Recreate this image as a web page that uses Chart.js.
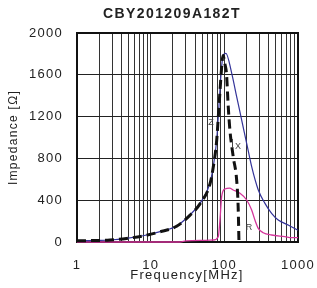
<!DOCTYPE html>
<html>
<head>
<meta charset="utf-8">
<script src="https://cdn.jsdelivr.net/npm/chart.js@4"></script>
<style>
  body { margin: 0; background: #fff; }
  #wrap { width: 317px; height: 288px; }
</style>
</head>
<body>
<div id="wrap"><canvas id="grafico" width="317" height="288"></canvas></div>
<script>
// frequencias em MHz e impedancias em ohm
const zFreq = [1, 2, 2.8, 4.7, 7.9, 13.4, 22.5, 34, 46.7, 63.8, 70.7, 78.7, 82.7, 87.2, 91.9, 96.7, 105, 126, 147, 172, 201, 235, 289, 356, 438, 539, 736, 1000];
const zVals = [12, 15, 19, 35, 60, 99, 153, 258, 370, 562, 721, 976, 1199, 1455, 1678, 1789, 1805, 1614, 1391, 1167, 944, 721, 498, 370, 275, 211, 163, 112];

const xFreq = [1, 2, 2.8, 4.7, 7.9, 13.4, 22.5, 34, 46.7, 63.8, 70.7, 78.7, 82.7, 87.2, 91.9, 96, 102, 107, 113, 119, 132, 147, 154, 158];
const xVals = [12, 15, 19, 34, 58, 97, 150, 255, 365, 555, 715, 970, 1190, 1440, 1670, 1785, 1700, 1610, 1295, 1072, 816, 593, 338, 0];

const rFreq = [1, 25, 30, 50, 70.7, 82.7, 87.2, 91.9, 102, 118, 132, 163, 201, 235, 260, 289, 337, 438, 664, 819, 1000];
const rVals = [0, 0, 10, 15, 19, 51, 211, 433, 507, 515, 498, 466, 402, 306, 211, 131, 89, 67, 51, 41, 41];

const decadas = [1, 10, 100, 1000];
const yTicks = [0, 400, 800, 1200, 1600, 2000];

const pontos = (fs, vs) => fs.map((f, i) => ({ x: f, y: vs[i] }));

const textos = {
  id: "textos",
  beforeDraw(chart) {
    chart.ctx.letterSpacing = "1.3px";
  },
  beforeDatasetsDraw(chart) {
    const { ctx, chartArea: a } = chart;
    ctx.save();
    ctx.strokeStyle = "#111";
    ctx.lineWidth = 2;
    ctx.strokeRect(a.left, a.top, a.right - a.left, a.bottom - a.top);
    ctx.restore();
  },
  afterDraw(chart) {
    const ctx = chart.ctx;
    ctx.save();
    ctx.fillStyle = "#222";
    ctx.textAlign = "center";
    ctx.textBaseline = "alphabetic";
    ctx.letterSpacing = "1.4px";
    ctx.font = 'bold 14px "Liberation Sans", Arial, sans-serif';
    ctx.fillText("CBY201209A182T", 172, 17.5);
    ctx.letterSpacing = "1.3px";
    ctx.font = '13px "Liberation Sans", Arial, sans-serif';
    ctx.fillText("Frequency[MHz]", 187, 279);
    ctx.letterSpacing = "0px";
    ctx.fillStyle = "#444";
    ctx.font = '9px "Liberation Sans", Arial, sans-serif';
    ctx.fillText("Z", 211, 124.5);
    ctx.fillText("X", 238, 148.5);
    ctx.fillText("R", 249, 229.5);
    ctx.strokeStyle = "#444";
    ctx.lineWidth = 1;
    ctx.beginPath();
    ctx.moveTo(232.5, 139);
    ctx.lineTo(232.5, 148);
    ctx.stroke();
    ctx.restore();
  }
};

new Chart(document.getElementById("grafico"), {
  type: "line",
  data: {
    datasets: [
      {
        label: "X",
        data: pontos(xFreq, xVals),
        borderColor: "#111",
        borderWidth: 3,
        borderDash: [9, 5],
        pointRadius: 0,
        cubicInterpolationMode: "monotone",
        clip: 3,
        order: 0
      },
      {
        label: "Z",
        data: pontos(zFreq, zVals),
        borderColor: "#333399",
        borderWidth: 1.2,
        pointRadius: 0,
        cubicInterpolationMode: "monotone",
        clip: 3,
        order: 1
      },
      {
        label: "R",
        data: pontos(rFreq, rVals),
        borderColor: "#d4359b",
        borderWidth: 1.3,
        pointRadius: 0,
        cubicInterpolationMode: "monotone",
        clip: 3,
        order: 2
      }
    ]
  },
  options: {
    responsive: false,
    animation: false,
    layout: { padding: { left: 0, right: 19, top: 33, bottom: 0 } },
    plugins: {
      legend: { display: false },
      tooltip: { enabled: false },
      title: { display: false }
    },
    scales: {
      x: {
        type: "logarithmic",
        min: 1,
        max: 1000,
        afterBuildTicks: scale => {
          const t = [];
          decadas.slice(0, 3).forEach(d => {
            for (let k = 1; k < 10; k++) t.push({ value: d * k });
          });
          t.push({ value: 1000 });
          scale.ticks = t;
        },
        afterFit: scale => {
          scale.height = 46;
          scale.paddingLeft = 0;
          scale.paddingRight = 0;
        },
        ticks: {
          autoSkip: false,
          maxRotation: 0,
          padding: 16,
          color: "#222",
          font: { family: '"Liberation Sans", Arial, sans-serif', size: 13 },
          callback: v => (decadas.includes(v) ? String(v) : "")
        },
        grid: { color: "#333", lineWidth: 1, drawTicks: false },
        border: { display: false }
      },
      y: {
        min: 0,
        max: 2000,
        afterBuildTicks: scale => { scale.ticks = yTicks.map(v => ({ value: v })); },
        afterFit: scale => {
          scale.width = 77;
          scale.paddingTop = 0;
          scale.paddingBottom = 0;
        },
        ticks: {
          padding: 14,
          color: "#222",
          font: { family: '"Liberation Sans", Arial, sans-serif', size: 13 },
          callback: v => String(v)
        },
        grid: { color: "#222", lineWidth: 1, drawTicks: false },
        border: { display: false },
        title: {
          display: true,
          text: "Impedance [Ω]",
          color: "#222",
          padding: { top: 6, bottom: 0 },
          font: { family: '"Liberation Sans", Arial, sans-serif', size: 12 }
        }
      }
    }
  },
  plugins: [textos]
});
</script>
</body>
</html>
